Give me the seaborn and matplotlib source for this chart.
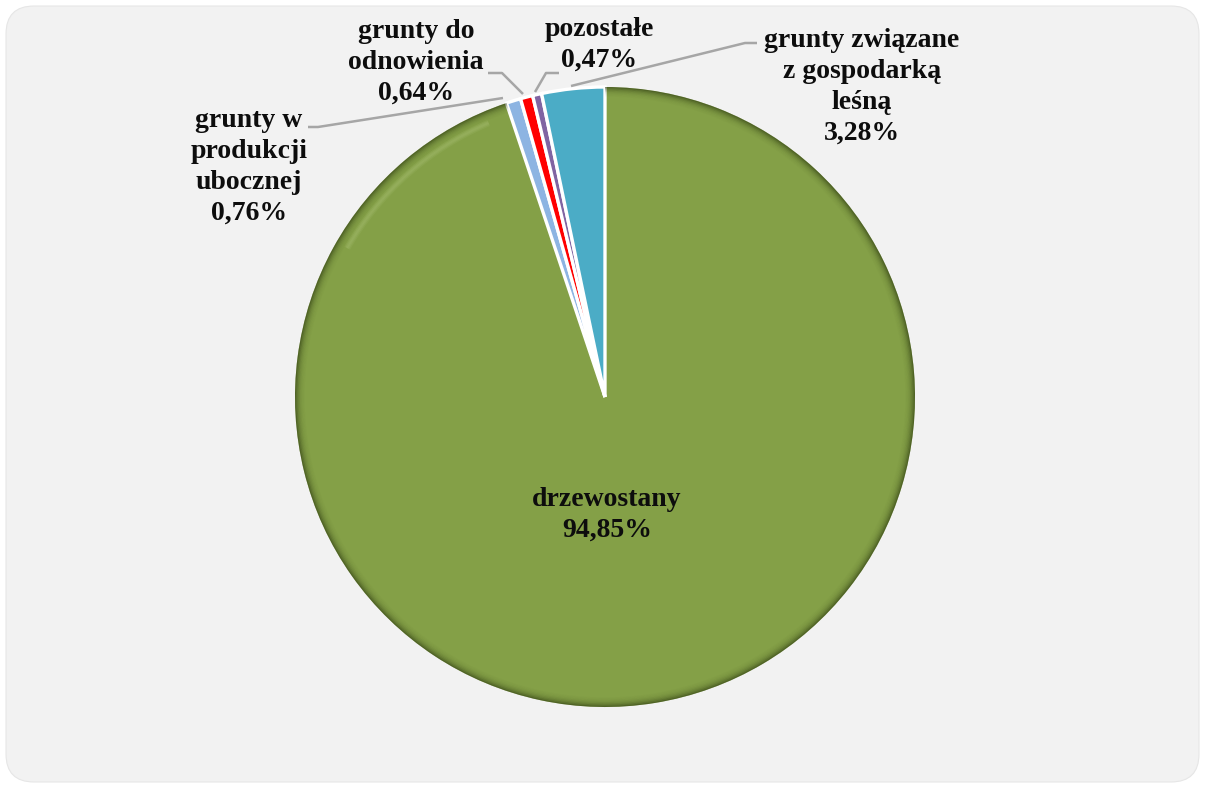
import matplotlib
matplotlib.use("Agg")
import matplotlib.pyplot as plt
import seaborn as sns
from matplotlib.patches import FancyBboxPatch, Wedge

sns.set_theme(style="white")
plt.rcParams['font.family'] = ['Liberation Serif', 'DejaVu Serif']

categories = ["drzewostany", "grunty w\nprodukcji\nubocznej", "grunty do\nodnowienia",
              "pozostałe", "grunty związane\nz gospodarką\nleśną"]
values = [94.85, 0.76, 0.64, 0.47, 3.28]
colors = ["#84a047", "#8db4e2", "#ff0000", "#8064a2", "#4bacc6"]

W, H = 1205, 789
fig = plt.figure(figsize=(W / 100, H / 100), dpi=100)
fig.patch.set_facecolor("white")

ax = fig.add_axes([0, 0, 1, 1])
ax.patch.set_alpha(0)

bg = FancyBboxPatch((6, 7), W - 12, H - 13, boxstyle="round,pad=0,rounding_size=28",
                    facecolor="#f2f2f2", edgecolor="#e6e6e6", lw=0.8, zorder=-10)
ax.add_patch(bg)

cx, cy, r = 605, H - 397, 310
e = 0.014
wedges, _ = ax.pie(values, colors=colors, startangle=90, counterclock=False,
                   center=(cx, cy), radius=r, explode=[0, e, e, e, e],
                   wedgeprops=dict(edgecolor="white", linewidth=2.4))
wedges[0].set_edgecolor("none")
ax.set_xlim(0, W)
ax.set_ylim(0, H)
ax.set_aspect("equal")
ax.axis("off")

# bevel shading on the main slice (dark rim + soft highlight upper-left)
w0 = wedges[0]
alphas = [0.55, 0.40, 0.28, 0.19, 0.12, 0.07, 0.04, 0.02]
for k, a in enumerate(alphas):
    ring = Wedge((cx, cy), r - k * 1.2, w0.theta1, w0.theta2, width=1.3,
                 facecolor="#26330c", alpha=a, edgecolor="none")
    ax.add_patch(ring)
for k, a in enumerate([0.06, 0.12, 0.16, 0.12, 0.06]):
    hl = Wedge((cx, cy), r - 9 - k * 1.3, 113, 150, width=1.4,
               facecolor="#eaf7c4", alpha=a, edgecolor="none")
    ax.add_patch(hl)

def fmt(v):
    return f"{v:.2f}%".replace(".", ",")

txt = dict(fontsize=20, fontweight="bold", color="#0d0d0d", ha="center", va="center",
           linespacing=1.3)
label_pos = [(607, 515), (249, 167), (416, 62), (599, 45), (862, 87)]
for name, v, (px, py) in zip(categories, values, label_pos):
    ax.text(px, H - py, f"{name}\n{fmt(v)}", **txt)

lc = dict(color="#a6a6a6", lw=1.8, solid_capstyle="butt")
def line(pts):
    xs = [p[0] for p in pts]
    ys = [H - p[1] for p in pts]
    ax.plot(xs, ys, **lc)

line([(308, 127), (318, 127), (503, 98)])
line([(488, 73), (502, 73), (523, 94)])
line([(559, 73), (546, 73), (535, 92)])
line([(757, 43), (745, 43), (571, 86)])

fig.savefig("out.png", dpi=100, facecolor="white")
